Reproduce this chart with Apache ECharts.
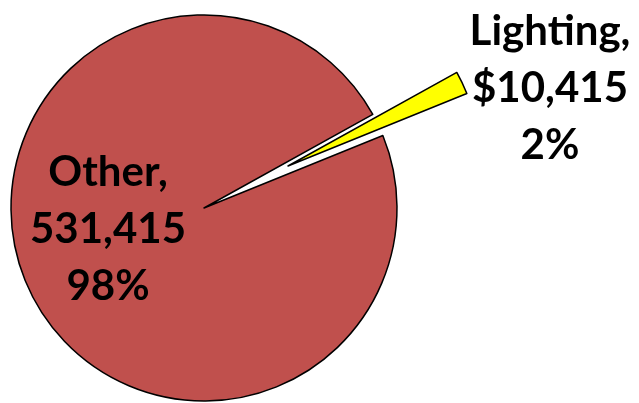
<!DOCTYPE html>
<html><head><meta charset="utf-8">
<script src="https://cdn.jsdelivr.net/npm/echarts@6/dist/echarts.min.js"></script>
<style>html,body{margin:0;padding:0;background:#fff}#c{width:639px;height:403px}</style>
</head><body><div id="c"></div>
<script>
var categories = ["Lighting", "Other"];
var values = [10415, 531415];
var labelTexts = ["Lighting,\n$10,415\n2%", "Other,\n531,415\n98%"];
var colors = ["#FFFF00", "#C0504D"];
var explodedIndex = 0;

var chart = echarts.init(document.getElementById('c'), null, {renderer: 'canvas'});

function makeData(exploded) {
  return categories.map(function (c, i) {
    var visible = exploded ? (i === explodedIndex) : (i !== explodedIndex);
    return {
      name: c, value: values[i],
      itemStyle: visible ? {color: colors[i], borderColor: '#000', borderWidth: 1.5}
                         : {color: 'rgba(0,0,0,0)', borderWidth: 0},
      label: {show: visible, formatter: labelTexts[i]}
    };
  });
}

var labelStyle = {
  position: 'inside',
  color: '#000', fontFamily: 'Lato', fontWeight: 'bold', fontSize: 42, lineHeight: 57,
  align: 'center'
};
var base = {
  type: 'pie', radius: [0, 193], startAngle: 29, clockwise: true,
  avoidLabelOverlap: false, silent: true, labelLine: {show: false},
  emphasis: {disabled: true}, label: labelStyle
};

chart.setOption({
  animation: false,
  series: [
    Object.assign({}, base, {
      center: [204, 208],
      labelLayout: function () { return {x: 108, y: 229, align: 'center', verticalAlign: 'middle'}; },
      data: makeData(false)
    }),
    Object.assign({}, base, {
      center: [288, 166],
      labelLayout: function () { return {x: 550, y: 88, align: 'center', verticalAlign: 'middle'}; },
      data: makeData(true)
    })
  ]
});
</script></body></html>
